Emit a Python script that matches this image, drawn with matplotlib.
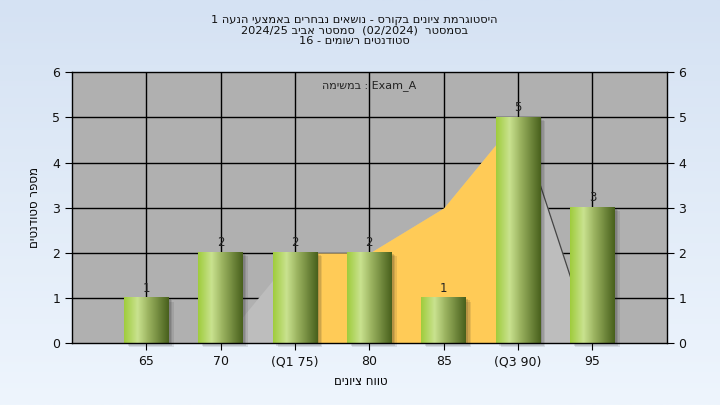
import re
import numpy as np
import matplotlib
matplotlib.use("Agg")
import matplotlib.pyplot as plt
import matplotlib.transforms as mtransforms
from matplotlib.patches import Rectangle
from matplotlib.colors import LinearSegmentedColormap


def heb(s):
    # matplotlib nie robi bidi - odwracamy recznie, liczby/latynka zostaja LTR
    r = s[::-1]
    return re.sub(r"[0-9A-Za-z_/().]+", lambda m: m.group(0)[::-1], r)


categories = ["65", "70", "(Q1 75)", "80", "85", "(Q3 90)", "95"]
counts = [1, 2, 2, 2, 1, 5, 3]
curve = [0, 0, 2, 2, 3, 5, 0]          # tlo (obszar) za slupkami
q1_idx, q3_idx = 2, 5

title_lines = [
    "היסטוגרמת ציונים בקורס - נושאים נבחרים באמצעי הנעה 1",
    "בסמסטר  (02/2024)  סמסטר אביב 2024/25",
    "סטודנטים רשומים - 16",
]
exam_label = "Exam_A : במשימה"
xlabel = "טווח ציונים"
ylabel = "מספר סטודנטים"

fig = plt.figure(figsize=(7.2, 4.05), dpi=100)

# tlo figury - delikatny gradient
bg = fig.add_axes([0, 0, 1, 1], zorder=-10)
grad = np.linspace(0, 1, 256).reshape(-1, 1)
bg_cmap = LinearSegmentedColormap.from_list("bg", ["#d5e2f3", "#eef5fd"])
bg.imshow(grad, aspect="auto", cmap=bg_cmap, extent=[0, 1, 0, 1])
bg.axis("off")

ax = fig.add_axes([0.1, 0.152, 0.826, 0.6695])
ax.set_facecolor("#b0b0b0")
x = np.arange(len(categories))

# siatka
for xi in x:
    ax.axvline(xi, color="black", lw=1, zorder=1)
for yi in range(1, 6):
    ax.axhline(yi, color="black", lw=1, zorder=1)

# obszar: szary calosc, zolty pomiedzy Q1 a Q3
ax.fill_between(x, curve, 0, color="#bdbdbd", lw=0, zorder=2)
ax.fill_between(x[q1_idx:q3_idx + 1], curve[q1_idx:q3_idx + 1], 0,
                color="#ffcb57", lw=0, zorder=2)
ax.plot(x[q3_idx:q3_idx + 2], curve[q3_idx:q3_idx + 2], color="#444444", lw=0.9, zorder=2)

# slupki z gradientem i cieniem
bar_cmap = LinearSegmentedColormap.from_list(
    "bar", [(0, "#9fcc3c"), (0.3, "#c9e28f"), (0.55, "#9ab25f"), (1, "#48601c")])
bw = 0.6
hgrad = np.linspace(0, 1, 128).reshape(1, -1)
for xi, c in zip(x, counts):
    for k, a in enumerate([0.15, 0.12, 0.1]):
        off = mtransforms.ScaledTranslation((2 + 1.5 * k) / 100, -(1 + 1.2 * k) / 100,
                                            fig.dpi_scale_trans)
        ax.add_patch(Rectangle((xi - bw / 2, 0), bw, c, facecolor="#202020", alpha=a,
                               lw=0, zorder=3, transform=ax.transData + off, clip_on=False))
    ax.imshow(hgrad, aspect="auto", cmap=bar_cmap, zorder=4,
              extent=[xi - bw / 2, xi + bw / 2, 0, c])
    ax.text(xi, c + 0.08, str(c), ha="center", va="bottom", fontsize=8.5,
            color="#222222", zorder=5)

ax.set_xlim(-1, 7)
ax.set_ylim(0, 6)
ax.set_xticks(x)
ax.set_xticklabels(categories)
ax.set_yticks(range(0, 7))
ax.tick_params(axis="both", labelsize=9, length=5, color="black", labelcolor="#111111")
ax.tick_params(axis="y", right=True, labelright=True)
for s in ax.spines.values():
    s.set_color("black")
    s.set_linewidth(1)
    s.set_zorder(6)

ax.text(3, 5.7, heb(exam_label), ha="center", va="center", fontsize=8,
        color="#222222", zorder=5)

ax.set_xlabel(heb(xlabel), fontsize=8.5)
ax.xaxis.set_label_coords(0.486, -0.115)
ax.set_ylabel(heb(ylabel), fontsize=8.5, labelpad=8)

fig.text(0.492, 0.926, "\n".join(heb(t) for t in title_lines), ha="center", va="center",
         fontsize=8.2, linespacing=1.08, color="#111111")

fig.savefig("out.png", dpi=100)
